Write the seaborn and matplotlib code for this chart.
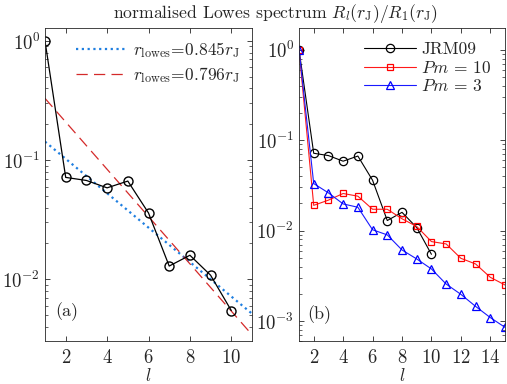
import numpy as np
import pandas as pd
import matplotlib
matplotlib.use("Agg")
import matplotlib.pyplot as plt
import seaborn as sns

# data
l_jrm = [1, 2, 3, 4, 5, 6, 7, 8, 9, 10]
r_jrm = [1.0, 0.0716, 0.0675, 0.0585, 0.0667, 0.036, 0.0129, 0.0159, 0.0108, 0.00546]

l_sim = list(range(1, 16))
r_pm10 = [1.0, 0.0190, 0.0217, 0.0257, 0.0240, 0.0172, 0.0172, 0.0135, 0.0111,
          0.00755, 0.00711, 0.00493, 0.00427, 0.00304, 0.0025]
r_pm3 = [1.0, 0.0331, 0.0261, 0.0197, 0.0181, 0.0102, 0.00895, 0.0061, 0.00485,
         0.00376, 0.00256, 0.00197, 0.00145, 0.00109, 0.00085]

# Lowes fit lines (straight on log axis), values at l=1 and l=11
l_fit = [1, 11]
fit_845 = [0.143, 0.00514]
fit_796 = [0.330, 0.00342]

sns.set_style("ticks")
plt.rcParams["font.family"] = ["cmr10"]
plt.rcParams["mathtext.fontset"] = "cm"
plt.rcParams["axes.formatter.use_mathtext"] = True
plt.rcParams["font.size"] = 12.5
plt.rcParams["xtick.direction"] = "in"
plt.rcParams["ytick.direction"] = "in"
plt.rcParams["xtick.top"] = True
plt.rcParams["ytick.right"] = True
plt.rcParams["axes.linewidth"] = 0.6

fig = plt.figure(figsize=(5.07, 3.84), dpi=100)
ax1 = fig.add_axes([45 / 507, 1 - 341 / 384, 207 / 507, 313 / 384])
ax2 = fig.add_axes([299 / 507, 1 - 341 / 384, 206 / 507, 313 / 384])

blue_fit = "#1f7fe0"
red_fit = "#d42a2a"

# panel (a)
sns.lineplot(x=l_fit, y=fit_845, ax=ax1, color=blue_fit, lw=1.6, linestyle=(0, (1, 1.6)),
             label=r"$r_{\rm lowes}\!=\!0.845r_{\rm J}$")
sns.lineplot(x=l_fit, y=fit_796, ax=ax1, color=red_fit, lw=0.9, linestyle=(0, (9, 5)),
             label=r"$r_{\rm lowes}\!=\!0.796r_{\rm J}$")
sns.lineplot(x=l_jrm, y=r_jrm, ax=ax1, color="k", lw=0.9, marker="o", ms=6.5,
             mfc="none", mec="k", mew=1.0)
ax1.set_yscale("log")
ax1.set_xlim(1, 11)
ax1.set_ylim(0.00303, 1.286)
ax1.set_xticks([2, 4, 6, 8, 10])
ax1.set_xlabel(r"$l$", labelpad=0)
ax1.text(0.05, 0.08, "(a)", transform=ax1.transAxes, fontsize=13)
ax1.legend(loc="upper right", frameon=False, handlelength=3.0, borderaxespad=0.3,
           labelspacing=0.3, handletextpad=0.3, fontsize=12.5)

# panel (b)
sns.lineplot(x=l_jrm, y=r_jrm, ax=ax2, color="k", lw=0.8, marker="o", ms=6,
             mfc="none", mec="k", mew=0.9, label="JRM09")
sns.lineplot(x=l_sim, y=r_pm10, ax=ax2, color="#ff1a1a", lw=0.8, marker="s", ms=4.5,
             mfc="none", mec="#ff0000", mew=0.9, label=r"$Pm$ = 10")
sns.lineplot(x=l_sim, y=r_pm3, ax=ax2, color="#1a1aff", lw=0.8, marker="^", ms=6,
             mfc="none", mec="#0000ff", mew=0.9, label=r"$Pm$ = 3")
ax2.set_yscale("log")
ax2.set_xlim(1, 15)
ax2.set_ylim(0.0006, 1.74)
ax2.set_xticks([2, 4, 6, 8, 10, 12, 14])
ax2.set_xlabel(r"$l$", labelpad=0)
ax2.text(0.04, 0.07, "(b)", transform=ax2.transAxes, fontsize=13)
ax2.legend(loc="upper right", frameon=False, handlelength=3.0, borderaxespad=0.4,
           labelspacing=0.15, handletextpad=0.3, fontsize=12.5)

for ax in (ax1, ax2):
    ax.set_ylabel("")
    ax.tick_params(which="major", length=3.5, width=0.6, labelsize=13.5)
    ax.tick_params(axis="x", which="major", pad=6)
    ax.tick_params(which="minor", length=2, width=0.5)

fig.text(275 / 507, 0.965, r"normalised Lowes spectrum $R_l(r_{\rm J})/R_1(r_{\rm J})$",
         ha="center", va="center", fontsize=12.7)

fig.savefig("out.png", dpi=100)
